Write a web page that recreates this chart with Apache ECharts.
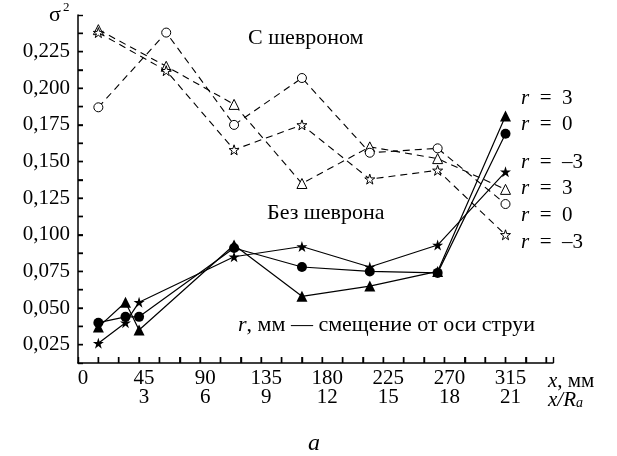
<!DOCTYPE html>
<html>
<head>
<meta charset="utf-8">
<script src="https://cdn.jsdelivr.net/npm/echarts@6/dist/echarts.min.js"></script>
<style>
html,body{margin:0;padding:0;background:#fff;}
#chart{width:617px;height:456px;}
</style>
</head>
<body>
<div id="chart"></div>
<script>
// ---- data ----
var xChevron = [15, 65, 115, 165, 215, 265, 315];
var chevR3  = [0.240, 0.215, 0.189, 0.135, 0.160, 0.152, 0.131];
var chevR0  = [0.187, 0.238, 0.175, 0.207, 0.156, 0.159, 0.121];
var chevRm3 = [0.238, 0.212, 0.158, 0.175, 0.138, 0.144, 0.100];

var xPlain = [15, 35, 45, 115, 165, 215, 265, 315];
var plainR3  = [0.037, 0.054, 0.035, 0.093, 0.058, 0.065, 0.075, 0.181];
var plainR0  = [0.040, 0.044, 0.044, 0.091, 0.078, 0.075, 0.074, 0.169];
var plainRm3 = [0.026, 0.040, 0.054, 0.085, 0.092, 0.078, 0.093, 0.143];

// tick positions (every 15 mm on x, every 0.0125 on y) and label rules
var xTicks = [15,30,45,60,75,90,105,120,135,150,165,180,195,210,225,240,255,270,285,300,315,330,345];
var yTicks = [0.025,0.0375,0.05,0.0625,0.075,0.0875,0.1,0.1125,0.125,0.1375,0.15,0.1625,0.175,0.1875,0.2,0.2125,0.225,0.2375];
var xLabelStep = 45, xLabelMax = 315;
var yLabelMin = 0.025, yLabelMax = 0.225;
var Ra = 15;
var X_MIN = 0, X_MAX = 350, Y_MIN = 0.0125, Y_MAX = 0.25;

function pairs(xs, ys){ return xs.map(function(x,i){ return [x, ys[i]]; }); }

var STAR = 'path://M50,0 L61.8,35.4 L99,35.4 L69,57.3 L80.4,92.7 L50,70.8 L19.6,92.7 L31,57.3 L1,35.4 L38.2,35.4 Z';
var SERIF = 'Liberation Serif';

function solid(data, sym, size){
  return {type:'line', data:data, symbol:sym, symbolSize:size, showAllSymbol:true,
    lineStyle:{color:'#000', width:1.2}, itemStyle:{color:'#000', borderColor:'#000', borderWidth:0},
    emphasis:{disabled:true}, z:3};
}
function dashed(data, sym, size){
  return {type:'line', data:data, symbol:sym, symbolSize:size, showAllSymbol:true,
    lineStyle:{color:'#000', width:1.1, type:[7,5]}, itemStyle:{color:'#fff', borderColor:'#000', borderWidth:1},
    emphasis:{disabled:true}, z:2};
}
function txt(x, y, s, size){
  return {type:'text', x:x, y:y, style:{text:s, font:size+'px '+SERIF, fill:'#000', textVerticalAlign:'middle',
    rich:{i:{fontStyle:'italic', fontFamily:SERIF, fontSize:size}}}};
}

var textGraphics = [
  {type:'text', x:49, y:15, style:{text:'σ', font:'22px '+SERIF, fill:'#000', textVerticalAlign:'middle'}},
  {type:'text', x:63, y:8, style:{text:'2', font:'13px '+SERIF, fill:'#000', textVerticalAlign:'middle'}},
  txt(248, 38, 'С шевроном', 22),
  txt(267, 213, 'Без шеврона', 22),
  txt(238, 325, '{i|r}, мм — смещение от оси струи', 22),
  txt(521, 98, '{i|r}\u2002=\u20023', 21),
  txt(521, 124, '{i|r}\u2002=\u20020', 21),
  txt(521, 162, '{i|r}\u2002=\u2002–3', 21),
  txt(521, 188, '{i|r}\u2002=\u20023', 21),
  txt(521, 215, '{i|r}\u2002=\u20020', 21),
  txt(521, 242, '{i|r}\u2002=\u2002–3', 21),
  txt(548, 381, '{i|x}, мм', 21),
  {type:'text', x:548, y:400, style:{text:'{i|x/R}{s|a}', font:'21px '+SERIF, fill:'#000', textVerticalAlign:'middle',
    rich:{i:{fontStyle:'italic', fontFamily:SERIF, fontSize:21}, s:{fontStyle:'italic', fontFamily:SERIF, fontSize:14, verticalAlign:'bottom', padding:[6,0,0,0]}}}},
  {type:'text', x:314, y:444, style:{text:'a', font:'italic 24px '+SERIF, fill:'#000', textAlign:'center', textVerticalAlign:'middle'}}
];

var chart = echarts.init(document.getElementById('chart'), null, {renderer:'canvas'});
var option = {
  animation:false,
  backgroundColor:'#fff',
  grid:{left:78, right:64, top:15, bottom:93},
  xAxis:{
    type:'value', min:X_MIN, max:X_MAX, interval:15,
    axisLine:{show:true, lineStyle:{color:'#000', width:1.5}},
    axisTick:{show:true, inside:true, length:6, lineStyle:{color:'#000', width:1.4}},
    splitLine:{show:false},
    axisLabel:{color:'#000', fontFamily:SERIF, fontSize:21, lineHeight:19, margin:6, padding:[0,0,0,10],
      formatter:function(v){
        if (v % xLabelStep !== 0 || v > xLabelMax) return '';
        return v===0 ? '0' : (v + '\n' + (v/Ra));
      }}
  },
  yAxis:{
    type:'value', min:Y_MIN, max:Y_MAX, interval:0.0125,
    axisLine:{show:true, lineStyle:{color:'#000', width:1.5}},
    axisTick:{show:true, inside:true, length:5, lineStyle:{color:'#000', width:1.4}},
    splitLine:{show:false},
    axisLabel:{color:'#000', fontFamily:SERIF, fontSize:21, margin:8,
      formatter:function(v){
        var k = Math.round(v*10000);
        if (k % 250 !== 0 || v < yLabelMin - 1e-6 || v > yLabelMax + 1e-6) return '';
        return v.toFixed(3).replace('.', ',');
      }}
  },
  series:[
    dashed(pairs(xChevron, chevR3), 'triangle', 10),
    dashed(pairs(xChevron, chevR0), 'circle', 9),
    dashed(pairs(xChevron, chevRm3), STAR, 10),
    solid(pairs(xPlain, plainR3), 'triangle', 11),
    solid(pairs(xPlain, plainR0), 'circle', 10),
    solid(pairs(xPlain, plainRm3), STAR, 11)
  ],
  graphic:textGraphics
};
chart.setOption(option);

// tick marks: positions converted through the chart's own axis scales
var tickGraphics = [];
xTicks.forEach(function(v){
  var p = chart.convertToPixel({gridIndex:0}, [v, Y_MIN]);
  if (p) tickGraphics.push({type:'line', z:100, shape:{x1:p[0], y1:p[1], x2:p[0], y2:p[1]-6}, style:{stroke:'#000', lineWidth:1.4}});
});
yTicks.forEach(function(v){
  var p = chart.convertToPixel({gridIndex:0}, [X_MIN, v]);
  if (p) tickGraphics.push({type:'line', z:100, shape:{x1:p[0], y1:p[1], x2:p[0]+5, y2:p[1]}, style:{stroke:'#000', lineWidth:1.4}});
});
chart.setOption({graphic:textGraphics.concat(tickGraphics)}, {replaceMerge:['graphic']});
</script>
</body>
</html>
